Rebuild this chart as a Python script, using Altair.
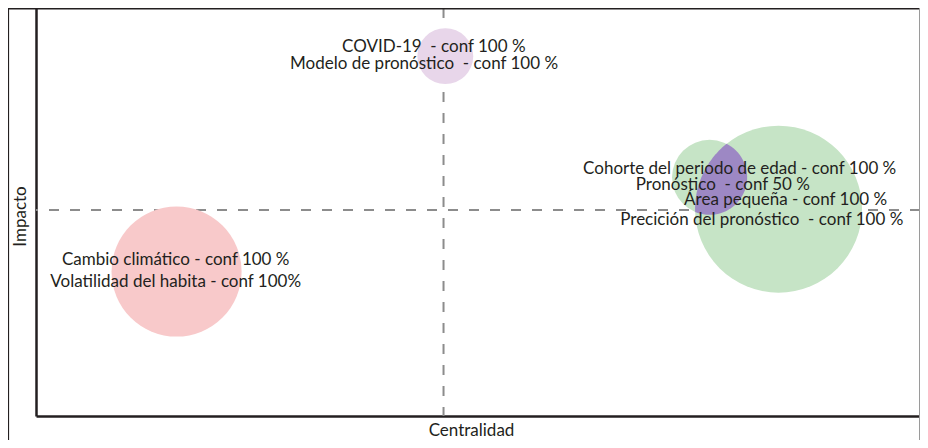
import math
import altair as alt
import pandas as pd

# ---------------- data ----------------
temas = ["Cambio climático", "COVID-19", "Precición del pronóstico", "Pronóstico"]
grupos = ["rojo", "lila", "verde", "verde"]
centralidad = [15.9, 46.3, 84.0, 76.2]
impacto = [35.4, 88.2, 50.7, 58.5]
peso = [42.3, 7.8, 69.7, 14.1]

etiquetas = [
    "COVID-19  - conf 100 %",
    "Modelo de pronóstico  - conf 100 %",
    "Cambio climático - conf 100 %",
    "Volatilidad del habita - conf 100%",
    "Cohorte del periodo de edad - conf 100 %",
    "Pronóstico  - conf 50 %",
    "Área pequeña - conf 100 %",
    "Precición del pronóstico  - conf 100 %",
]
etiqueta_x = [45.0, 43.9, 15.8, 15.8, 79.6, 77.7, 84.8, 82.1]
etiqueta_y = [89.1, 85.0, 37.0, 31.7, 59.2, 55.4, 51.7, 46.8]

umbral_centralidad = 46.1
umbral_impacto = 50.5

grupo_dominio = ["rojo", "lila", "verde", "solape"]
grupo_colores = ["#f8c9ca", "#e8d6ea", "#c6e4c6", "#9d88c4"]

# ---------------- layout ----------------
W, H = 884, 408
FONT = "Lato"
TXT = "#231f20"

circ = pd.DataFrame({"tema": temas, "grupo": grupos, "centralidad": centralidad,
                     "impacto": impacto, "peso": peso})

# lens (overlap of the two green circles), computed from the circle data
size_max = 40000.0
def radio_px(v):
    return math.sqrt(v / 100.0 * size_max) / 2.0

small = circ.iloc[3]
big = circ.iloc[2]
rs = radio_px(small["peso"])
rb = radio_px(big["peso"])
a = (big["centralidad"] - small["centralidad"]) * W / 100.0 / rs
b = -(big["impacto"] - small["impacto"]) * H / 100.0 / rs
r2 = rb / rs
d = math.hypot(a, b)
l = (d * d + 1 - r2 * r2) / (2 * d)
h = math.sqrt(max(0.0, 1 - l * l))
tu = math.atan2(b, a)
alpha = math.atan2(h, l)
beta = math.atan2(h, d - l)
pts = []
N = 40
for k in range(N + 1):
    t = tu + alpha - 2 * alpha * k / N
    pts.append((math.cos(t), math.sin(t)))
for k in range(N + 1):
    t = tu + math.pi + beta - 2 * beta * k / N
    pts.append((a + r2 * math.cos(t), b + r2 * math.sin(t)))
lens_path = "M" + " L".join(f"{x:.4f},{y:.4f}" for x, y in pts) + " Z"

lens = pd.DataFrame({"tema": ["Pronóstico"], "grupo": ["solape"],
                     "centralidad": [small["centralidad"]], "impacto": [small["impacto"]],
                     "peso": [small["peso"]], "forma": [lens_path]})

# keep the double spaces visible in SVG
labels = pd.DataFrame({"texto": [t.replace("  ", "\u00a0 ") for t in etiquetas],
                       "x": etiqueta_x, "y": etiqueta_y})

xs = alt.Scale(domain=[0, 100], nice=False, zero=False)
ys = alt.Scale(domain=[0, 100], nice=False, zero=False)
sz = alt.Scale(domain=[0, 100], range=[0, size_max])
col = alt.Scale(domain=grupo_dominio, range=grupo_colores)

x_axis = alt.Axis(title="Centralidad", labels=False, ticks=False, grid=False,
                  domainColor=TXT, domainWidth=2.5, titleFont=FONT, titleFontSize=17,
                  titleFontWeight="normal", titleColor=TXT, titlePadding=6, titleX=435)
y_axis = alt.Axis(title="Impacto", labels=False, ticks=False, grid=False,
                  domainColor=TXT, domainWidth=2.5, titleFont=FONT, titleFontSize=17,
                  titleFontWeight="normal", titleColor=TXT, titlePadding=7, titleY=208)

base_dash = dict(strokeDash=[10, 11], strokeWidth=2, color="#8c8c8c")
vline = alt.Chart(pd.DataFrame({"v": [umbral_centralidad]})).mark_rule(**base_dash).encode(
    x=alt.X("v:Q", scale=xs, axis=x_axis))
hline = alt.Chart(pd.DataFrame({"v": [umbral_impacto]})).mark_rule(**base_dash).encode(
    y=alt.Y("v:Q", scale=ys, axis=y_axis))

circles = alt.Chart(circ).mark_circle(opacity=1).encode(
    x=alt.X("centralidad:Q", scale=xs, axis=x_axis),
    y=alt.Y("impacto:Q", scale=ys, axis=y_axis),
    size=alt.Size("peso:Q", scale=sz, legend=None),
    color=alt.Color("grupo:N", scale=col, legend=None),
)

lens_mark = alt.Chart(lens).mark_point(filled=True, opacity=1, strokeWidth=0).encode(
    x=alt.X("centralidad:Q", scale=xs, axis=x_axis),
    y=alt.Y("impacto:Q", scale=ys, axis=y_axis),
    size=alt.Size("peso:Q", scale=sz, legend=None),
    color=alt.Color("grupo:N", scale=col, legend=None),
    shape=alt.Shape("forma:N", scale=None),
)

texts = alt.Chart(labels).mark_text(align="center", baseline="alphabetic", font=FONT,
                                    fontSize=17, color=TXT).encode(
    x=alt.X("x:Q", scale=xs, axis=x_axis),
    y=alt.Y("y:Q", scale=ys, axis=y_axis),
    text="texto:N",
)

frame_top = alt.Chart(pd.DataFrame({"k": [0]})).mark_rule(color=TXT, strokeWidth=2).encode(
    x=alt.value(-28), x2=alt.value(W), y=alt.value(0.5))
frame_right = alt.Chart(pd.DataFrame({"k": [0]})).mark_rule(color="#9a9a9a", strokeWidth=1).encode(
    x=alt.value(W - 0.5), y=alt.value(0), y2=alt.value(H + 24))
frame_left = alt.Chart(pd.DataFrame({"k": [0]})).mark_rule(color=TXT, strokeWidth=1.2).encode(
    x=alt.value(-27.5), y=alt.value(0), y2=alt.value(H + 24))

chart = alt.layer(vline, hline, circles, lens_mark, texts, frame_top, frame_right, frame_left).properties(
    width=W, height=H,
    autosize=alt.AutoSizeParams(type="none"),
    padding={"left": 28, "top": 0, "right": 0, "bottom": 24},
).configure_view(stroke=None)

chart.save("out.html", embed_options={"renderer": "svg", "actions": False})
